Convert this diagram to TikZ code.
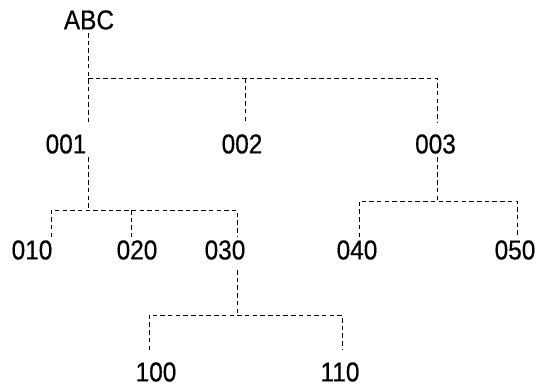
\documentclass[tikz,border=0pt]{standalone}
\usepackage{fontspec}
\setmainfont{Liberation Sans}
\newfontfamily\lblfont{Liberation Sans}[FakeBold=0.5]
\begin{document}
\begin{tikzpicture}[x=1bp,y=-1bp,
  lbl/.style={inner sep=0pt,font=\lblfont\fontsize{24.5}{28}\selectfont,yscale=1.12},
  dl/.style={line width=1bp,dash pattern=on 4.5bp off 3.2bp}]
\useasboundingbox (0,0) rectangle (539,386);
% nodes
\node[lbl] (ABC) at (89,20) {ABC};
\node[lbl] (n001) at (66,144) {001};
\node[lbl] (n002) at (242,144) {002};
\node[lbl] (n003) at (435.5,144) {003};
\node[lbl] (n010) at (32,250) {010};
\node[lbl] (n020) at (137,250) {020};
\node[lbl] (n030) at (225,250) {030};
\node[lbl] (n040) at (357,250) {040};
\node[lbl] (n050) at (515,250) {050};
\node[lbl] (n100) at (156,372) {100};
\node[lbl] (n110) at (340,372) {110};
% connector end points
\coordinate (pABC) at (88,33);
\coordinate (jABC) at (88,78);
\coordinate (c001) at (88,123);
\coordinate (c002) at (245,123);
\coordinate (c003) at (437,123);
\coordinate (p001) at (88,157);
\coordinate (j001) at (88,210);
\coordinate (c010) at (51,237);
\coordinate (c020) at (131,237);
\coordinate (c030) at (237,237);
\coordinate (p003) at (437,157);
\coordinate (j003) at (437,201);
\coordinate (c040) at (359,237);
\coordinate (c050) at (517,237);
\coordinate (p030) at (237,270);
\coordinate (j030) at (237,315);
\coordinate (c100) at (149,350);
\coordinate (c110) at (342,350);
% connectors
\draw[dl] (pABC) -- (c001);
\draw[dl] (jABC) -| (c003);
\draw[dl] (c002 |- jABC) -- (c002);
\draw[dl] (p001) -- (j001);
\draw[dl] (c010) |- (c030 |- j001) -- (c030);
\draw[dl] (c020 |- j001) -- (c020);
\draw[dl] (p003) -- (j003);
\draw[dl] (c040) |- (c050 |- j003) -- (c050);
\draw[dl] (p030) -- (j030);
\draw[dl] (c100) |- (c110 |- j030) -- (c110);
\end{tikzpicture}
\end{document}
